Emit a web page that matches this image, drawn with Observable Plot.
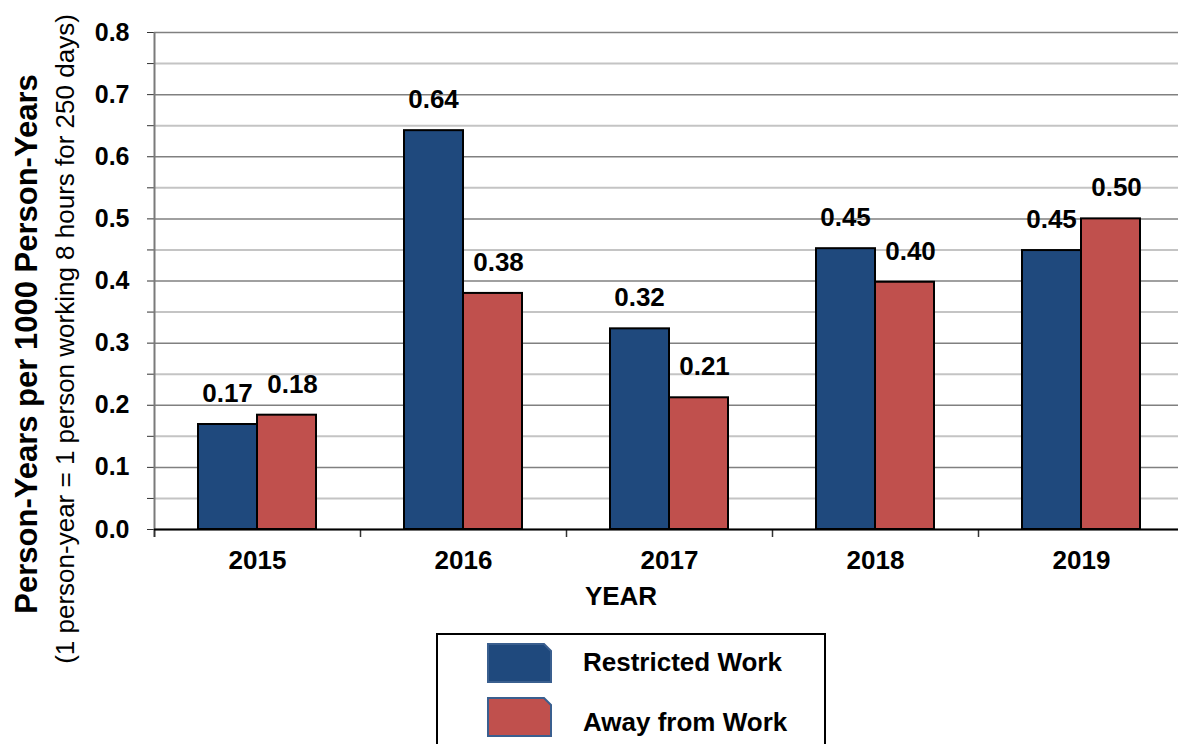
<!DOCTYPE html>
<html>
<head>
<meta charset="utf-8">
<script src="https://cdn.jsdelivr.net/npm/d3@7"></script>
<script src="https://cdn.jsdelivr.net/npm/@observablehq/plot@0.6"></script>
<style>
  html, body { margin: 0; padding: 0; background: #fff; }
  #chart svg { display: block; font-family: "Liberation Sans", Arial, sans-serif; }
</style>
</head>
<body>
<div id="chart"></div>
<script>
// ---- data ----
const years = ["2015", "2016", "2017", "2018", "2019"];
const seriesNames = ["Restricted Work", "Away from Work"];
const restrictedWork = [0.169, 0.642, 0.323, 0.452, 0.449];
const awayFromWork = [0.184, 0.380, 0.212, 0.398, 0.500];
const majorTicks = [0, 0.1, 0.2, 0.3, 0.4, 0.5, 0.6, 0.7, 0.8];
const minorTicks = [0.05, 0.15, 0.25, 0.35, 0.45, 0.55, 0.65, 0.75];
const colors = ["#1F497D", "#C0504D"];
const yTitle = "Person-Years per 1000 Person-Years";
const ySubtitle = "(1 person-year = 1 person working 8 hours for 250 days)";
const xTitle = "YEAR";

const blueRows = years.map((y, i) => ({year: y, series: seriesNames[0], value: restrictedWork[i]}));
const redRows = years.map((y, i) => ({year: y, series: seriesNames[1], value: awayFromWork[i]}));
const fmt = d3.format(".2f");

const W = 1178, H = 744;
const chart = Plot.plot({
  width: W,
  height: H,
  marginLeft: 154,
  marginRight: 0,
  marginTop: 32,
  marginBottom: 215,
  style: {fontFamily: "'Liberation Sans', Arial, sans-serif", background: "#fff", overflow: "visible"},
  x: {domain: years, padding: 0, range: [154, 1184], label: null},
  y: {domain: [0, 0.8], label: null},
  marks: [
    Plot.gridY(minorTicks, {stroke: "#c4c4c4", strokeOpacity: 1, strokeWidth: 2}),
    Plot.gridY(majorTicks, {stroke: "#808080", strokeOpacity: 1, strokeWidth: 1.5}),
    Plot.axisY({ticks: minorTicks, tickSize: 7, tickFormat: () => "", stroke: "#333", label: null}),
    Plot.axisY({ticks: majorTicks, tickSize: 7, tickPadding: 18, tickFormat: d3.format(".1f"),
      fontSize: 25, fontWeight: "bold", fill: "#000", stroke: "#333", label: null}),
    Plot.axisX({tickSize: 0, tickPadding: 21, fontSize: 26, fontWeight: "bold", fill: "#000", label: null}),
    // y axis line
    Plot.ruleX([years[0]], {x: d => d, y1: 0.8, y2: 0, insetBottom: -8, dx: -103, stroke: "#7a7a7a", strokeWidth: 2}),
    // category boundary ticks
    Plot.ruleX(years, {x: d => d, y1: 0, y2: 0, insetBottom: -8, dx: -103, stroke: "#333", strokeWidth: 1.5}),
    Plot.barY(blueRows, {x: "year", y: "value", fill: colors[0], stroke: "#000", strokeWidth: 2, insetLeft: 44, insetRight: 103}),
    Plot.barY(redRows, {x: "year", y: "value", fill: colors[1], stroke: "#000", strokeWidth: 2, insetLeft: 103, insetRight: 44}),
    Plot.ruleY([0], {stroke: "#000", strokeWidth: 2}),
    Plot.text(blueRows, {x: "year", y: "value", text: d => fmt(d.value), dx: -30, dy: -31,
      fontSize: 26, fontWeight: "bold", fill: "#000"}),
    Plot.text(redRows, {x: "year", y: "value", text: d => fmt(d.value), dx: 35, dy: -31,
      fontSize: 26, fontWeight: "bold", fill: "#000"})
  ]
});

const svg = d3.select(chart);
// axis titles
svg.append("text")
  .attr("transform", "translate(37,344) rotate(-90)")
  .attr("text-anchor", "middle")
  .attr("font-size", 31).attr("font-weight", "bold").attr("fill", "#000")
  .text(yTitle);
svg.append("text")
  .attr("transform", "translate(74,339) rotate(-90)")
  .attr("text-anchor", "middle")
  .attr("font-size", 26).attr("fill", "#000")
  .text(ySubtitle);
svg.append("text")
  .attr("x", 621).attr("y", 605)
  .attr("text-anchor", "middle")
  .attr("font-size", 26).attr("font-weight", "bold").attr("fill", "#000")
  .text(xTitle);

// legend
const lg = svg.append("g");
lg.append("rect").attr("x", 437).attr("y", 634).attr("width", 388).attr("height", 130)
  .attr("fill", "#fff").attr("stroke", "#000").attr("stroke-width", 2);
const swatch = (x, y, w, h, c) => `M${x},${y}H${x + w - c}L${x + w},${y + c}V${y + h}H${x}Z`;
const legendItems = [
  {name: seriesNames[0], color: colors[0], border: "#3a5f8f", sy: 644, ty: 671},
  {name: seriesNames[1], color: colors[1], border: "#3a5f8f", sy: 698, ty: 731}
];
legendItems.forEach(it => {
  lg.append("path").attr("d", swatch(488, it.sy, 63, 38, 7))
    .attr("fill", it.color).attr("stroke", it.border).attr("stroke-width", 2);
  lg.append("text").attr("x", 583).attr("y", it.ty)
    .attr("text-anchor", "start")
    .attr("font-size", 26).attr("font-weight", "bold").attr("fill", "#000")
    .text(it.name);
});

document.getElementById("chart").appendChild(chart);
</script>
</body>
</html>
